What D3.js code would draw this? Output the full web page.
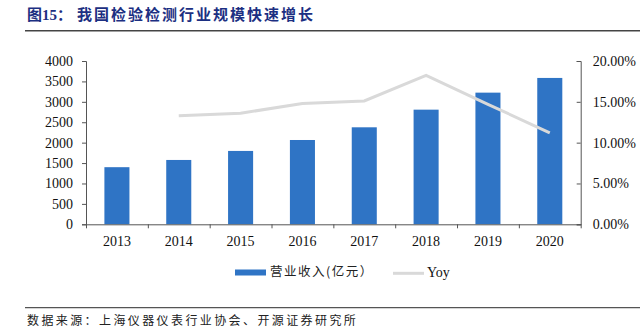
<!DOCTYPE html>
<html><head><meta charset="utf-8">
<script src="https://cdn.jsdelivr.net/npm/d3@7"></script>
<style>
html,body{margin:0;padding:0;background:#fff;}
svg{display:block;}
</style>
</head><body>
<svg id="c" width="640" height="333"></svg>
<script>
const years = ["2013","2014","2015","2016","2017","2018","2019","2020"];
const revenue = [1399, 1576, 1797, 2065, 2376, 2808, 3225, 3585];
const yoy = [null, 0.133, 0.136, 0.148, 0.151, 0.1825, 0.147, 0.112];
const leftTicks = [0,500,1000,1500,2000,2500,3000,3500,4000];
const rightTicks = [0,0.05,0.10,0.15,0.20];
const titlePrefix = "图15：";
const titleText = "我国检验检测行业规模快速增长";
const sourceText = "数据来源：上海仪器仪表行业协会、开源证券研究所";
const legendLabels = ["营业收入(亿元）", "Yoy"];

const svg = d3.select("#c");
const L = 86, R = 580.7, T = 61, B = 224.3;
const serif = "'Liberation Serif','Times New Roman',serif";
const cjk = "'Noto Sans CJK SC','Noto Sans',sans-serif";
const axisColor = "#555";

// title
const tt = svg.append("text").attr("x",27).attr("y",17).attr("dominant-baseline","middle")
  .attr("font-family","'Liberation Serif','Noto Sans CJK SC',serif").attr("font-weight","bold")
  .attr("font-size",15).attr("fill","#1c2f82");
tt.append("tspan").text(titlePrefix);
tt.append("tspan").attr("x",77).attr("textLength",236).attr("lengthAdjust","spacing").text(titleText);
svg.append("line").attr("x1",25).attr("x2",640).attr("y1",30.7).attr("y2",30.7)
  .attr("stroke","#444").attr("stroke-width",1.5);

const x = d3.scaleBand().domain(years).range([L,R]).paddingInner(0.595).paddingOuter(0.2975);
const yL = d3.scaleLinear().domain([0,4000]).range([B,T]);
const yR = d3.scaleLinear().domain([0,0.2]).range([B,T]);
const xb = d3.scaleLinear().domain([0,years.length]).range([L,R]);

// bars
svg.append("g").selectAll("rect").data(revenue).join("rect")
  .attr("x",(d,i)=>x(years[i])).attr("width",x.bandwidth())
  .attr("y",d=>yL(d)).attr("height",d=>B-yL(d)).attr("fill","#2f74c5");

// line
const pts = years.map((yv,i)=>({x:x(yv)+x.bandwidth()/2, v:yoy[i]})).filter(p=>p.v!=null);
svg.append("path").datum(pts)
  .attr("d",d3.line().x(d=>d.x).y(d=>yR(d.v)))
  .attr("fill","none").attr("stroke","#d9d9d9").attr("stroke-width",3);

function styleAxis(g){
  g.select(".domain").attr("stroke",axisColor).attr("stroke-width",1);
  g.selectAll(".tick line").attr("stroke",axisColor);
  g.selectAll("text").attr("font-family",serif).attr("font-size",14).attr("fill","#111");
}

// left axis
svg.append("g").attr("transform",`translate(${L},0)`)
  .call(d3.axisLeft(yL).tickValues(leftTicks).tickSize(4).tickSizeOuter(4).tickPadding(9).tickFormat(d3.format("d")))
  .call(styleAxis);

// right axis
svg.append("g").attr("transform",`translate(${R},0)`)
  .call(d3.axisRight(yR).tickValues(rightTicks).tickSize(-4).tickSizeOuter(-4).tickPadding(12).tickFormat(d3.format(".2%")))
  .call(styleAxis);

// x axis boundary ticks
svg.append("g").attr("transform",`translate(0,${B})`)
  .call(d3.axisBottom(xb).ticks(years.length).tickSize(4).tickSizeOuter(0).tickFormat(""))
  .call(styleAxis);
// x labels
svg.append("g").attr("transform",`translate(0,${B})`)
  .call(d3.axisBottom(x).tickSize(0).tickPadding(12))
  .call(g=>g.select(".domain").remove())
  .call(styleAxis);

// legend
const lg = svg.append("g");
lg.append("rect").attr("x",235).attr("y",269.5).attr("width",31).attr("height",6).attr("fill","#2f74c5");
lg.append("text").attr("x",270).attr("y",273).attr("dominant-baseline","middle")
  .attr("font-family",cjk).attr("font-size",12.5).attr("letter-spacing",1.5).attr("fill","#222").text(legendLabels[0]);
lg.append("line").attr("x1",393).attr("x2",424).attr("y1",273.3).attr("y2",273.3)
  .attr("stroke","#d9d9d9").attr("stroke-width",3);
lg.append("text").attr("x",427).attr("y",273.5).attr("dominant-baseline","middle")
  .attr("font-family",serif).attr("font-size",14).attr("fill","#111").text(legendLabels[1]);

// source
svg.append("line").attr("x1",25).attr("x2",640).attr("y1",307.7).attr("y2",307.7)
  .attr("stroke","#555").attr("stroke-width",1.2);
svg.append("text").attr("x",27).attr("y",322).attr("dominant-baseline","middle")
  .attr("font-family",cjk).attr("font-size",12).attr("letter-spacing",2.4).attr("fill","#222").text(sourceText);
</script>
</body></html>
